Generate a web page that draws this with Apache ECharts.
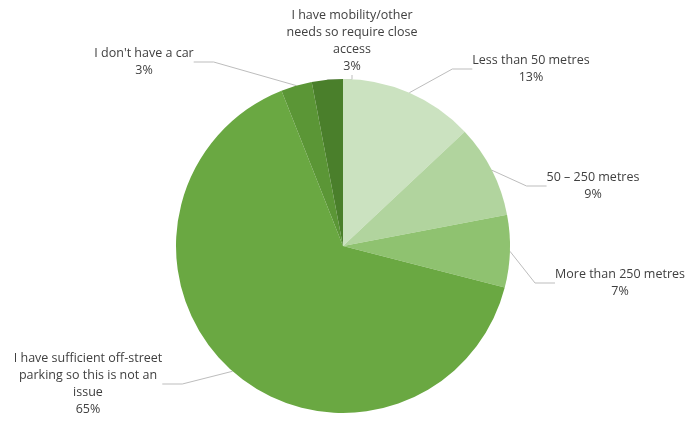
<!DOCTYPE html>
<html>
<head>
<meta charset="utf-8">
<script src="https://cdn.jsdelivr.net/npm/echarts@6/dist/echarts.min.js"></script>
<style>html,body{margin:0;padding:0;background:#fff;}#c{width:697px;height:421px;}</style>
</head>
<body>
<div id="c"></div>
<script>
const categories = [
  'Less than 50 metres',
  '50 – 250 metres',
  'More than 250 metres',
  'I have sufficient off-street\nparking so this is not an\nissue',
  "I don't have a car",
  'I have mobility/other\nneeds so require close\naccess'
];
const values = [13, 9, 7, 65, 3, 3];
const colors = ['#cbe2c0', '#b1d49e', '#8fc270', '#6aa842', '#5b9636', '#4a7f2b'];
// label anchor positions (layout, not data)
const labelPos = [[531, 69], [593, 186], [620, 283], [88, 384], [144, 62], [352, 41]];

const chart = echarts.init(document.getElementById('c'), null, {renderer: 'canvas'});
chart.setOption({
  animation: false,
  backgroundColor: '#ffffff',
  series: [{
    type: 'pie',
    center: [343, 246],
    radius: 167,
    startAngle: 90,
    clockwise: true,
    data: categories.map((n, i) => ({name: n, value: values[i], itemStyle: {color: colors[i]}})),
    itemStyle: {borderWidth: 0},
    label: {
      show: true,
      formatter: '{b}\n{c}%',
      color: '#404040',
      fontFamily: 'Open Sans',
      fontSize: 12.5,
      lineHeight: 17,
      align: 'center'
    },
    labelLine: {show: true, lineStyle: {color: '#bdbdbd', width: 1}, length: 20, length2: 20},
    labelLayout: function (p) {
      const pos = labelPos[p.dataIndex];
      return {x: pos[0], y: pos[1], align: 'center', verticalAlign: 'middle'};
    },
    emphasis: {disabled: true}
  }]
});
</script>
</body>
</html>
